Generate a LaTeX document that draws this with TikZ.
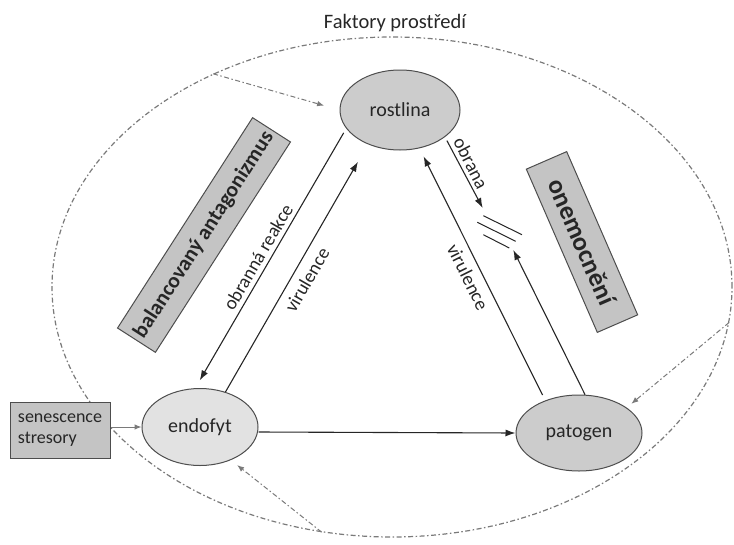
\documentclass[tikz,border=0pt]{standalone}
\usepackage{fontspec}
\setmainfont{Carlito}
\usetikzlibrary{shapes.geometric, arrows.meta}
\definecolor{ink}{HTML}{262626}
\definecolor{dotc}{HTML}{7A7A7A}
\definecolor{fillA}{HTML}{CCCCCC}
\definecolor{fillB}{HTML}{E2E2E2}
\definecolor{boxfill}{HTML}{C4C4C4}
\definecolor{edgec}{HTML}{4D4D4D}
\begin{document}
\begin{tikzpicture}[x=1pt,y=-1pt,
  actor/.style={ellipse, draw=edgec, line width=1pt, inner sep=0, text=ink, font=\fontsize{20}{24}\selectfont},
  theme/.style={draw=edgec, fill=boxfill, line width=1pt, inner sep=0, text=ink},
  lab/.style={text=ink, inner sep=0, font=\fontsize{19}{23}\selectfont},
  conn/.style={draw=ink, line width=1.1pt, -{Latex[length=10pt,width=7pt]}},
  envline/.style={draw=dotc, line width=1.2pt, dash pattern=on 5pt off 2.5pt on 1.5pt off 2.5pt},
  envarrow/.style={envline, line width=1pt, -{Latex[length=7pt,width=5.5pt]}},
]
\useasboundingbox (0,0) rectangle (734,544);

% environment
\node[envline, ellipse, minimum width=680pt, minimum height=500pt, inner sep=0] (env) at (392,287) {};
\node[text=ink, inner sep=0, font=\fontsize{20.5}{24}\selectfont] (fak) at (395,23) {Faktory prostředí};

% actors
\node[actor, fill=fillA, minimum width=120pt, minimum height=80pt] (rost) at (400,110) {rostlina};
\node[actor, fill=fillB, minimum width=116pt, minimum height=77pt] (endo) at (200,427) {endofyt};
\node[actor, fill=fillA, minimum width=126pt, minimum height=76pt] (pato) at (579,433) {patogen};

% senescence box
\node[draw=edgec, fill=boxfill, line width=1pt, minimum width=100pt, minimum height=56pt, inner sep=0,
      align=left, text=ink, font=\fontsize{18}{21.5}\selectfont] (sen) at (60,430) {senescence\\stresory};

% theme boxes
\node[theme, minimum width=250pt, minimum height=45pt, rotate=57.3,
      font=\fontsize{21.5}{26}\selectfont\bfseries] (bal) at (204,235) {balancovaný antagonizmus};
\node[theme, minimum width=178pt, minimum height=44pt, rotate=-66.5,
      font=\fontsize{26}{30}\selectfont\bfseries] (onem) at (582,242) {onemocnění};

% blocked symbol
\coordinate (blk) at (500,232);
\coordinate (obrtip) at (482.7,208);
\coordinate (blktip) at (513.3,250);
\draw[ink, line width=1pt] ([shift={(-16.7,2.7)}]blk) -- ([shift={(9.3,16)}]blk);
\draw[ink, line width=1pt] ([shift={(-22.7,-9.7)}]blk) -- ([shift={(15.7,9.3)}]blk);
\draw[ink, line width=1pt] ([shift={(-16.7,-16.3)}]blk) -- ([shift={(22,2.7)}]blk);

% connectors
\draw[conn, shorten <=5pt, shorten >=9pt] (rost.199) -- (endo.97.5);
\draw[conn, shorten >=20pt] (endo.54) -- (rost.227);
\draw[conn, shorten <=4pt] (rost.329.6) -- (obrtip);
\draw[conn, shorten <=6pt, shorten >=9pt] (pato.136.7) -- (rost.297);
\draw[conn] (pato.81) -- (blktip);
\draw[conn] ([yshift=-5pt]endo.east) -- (pato.west);
\draw[draw=dotc, line width=1pt, -{Latex[length=7pt,width=5.5pt]}] (sen.east |- endo) -- (endo.west);

% environment arrows
\draw[envarrow, shorten >=16pt] (env.130) -- (rost.west);
\draw[envarrow, shorten >=6pt] (env.-6) -- (pato.28);
\draw[envarrow, shorten >=8pt] (env.254) -- (endo.-47);

% labels
\node[lab, rotate=59.6] (lobr) at (258,257) {obranná reakce};
\node[lab, rotate=60] (lvir1) at (307,280) {virulence};
\node[lab, rotate=-62.8] (lobrana) at (471,163) {obrana};
\node[lab, rotate=-63.6] (lvir2) at (468,277) {virulence};
\end{tikzpicture}
\end{document}
